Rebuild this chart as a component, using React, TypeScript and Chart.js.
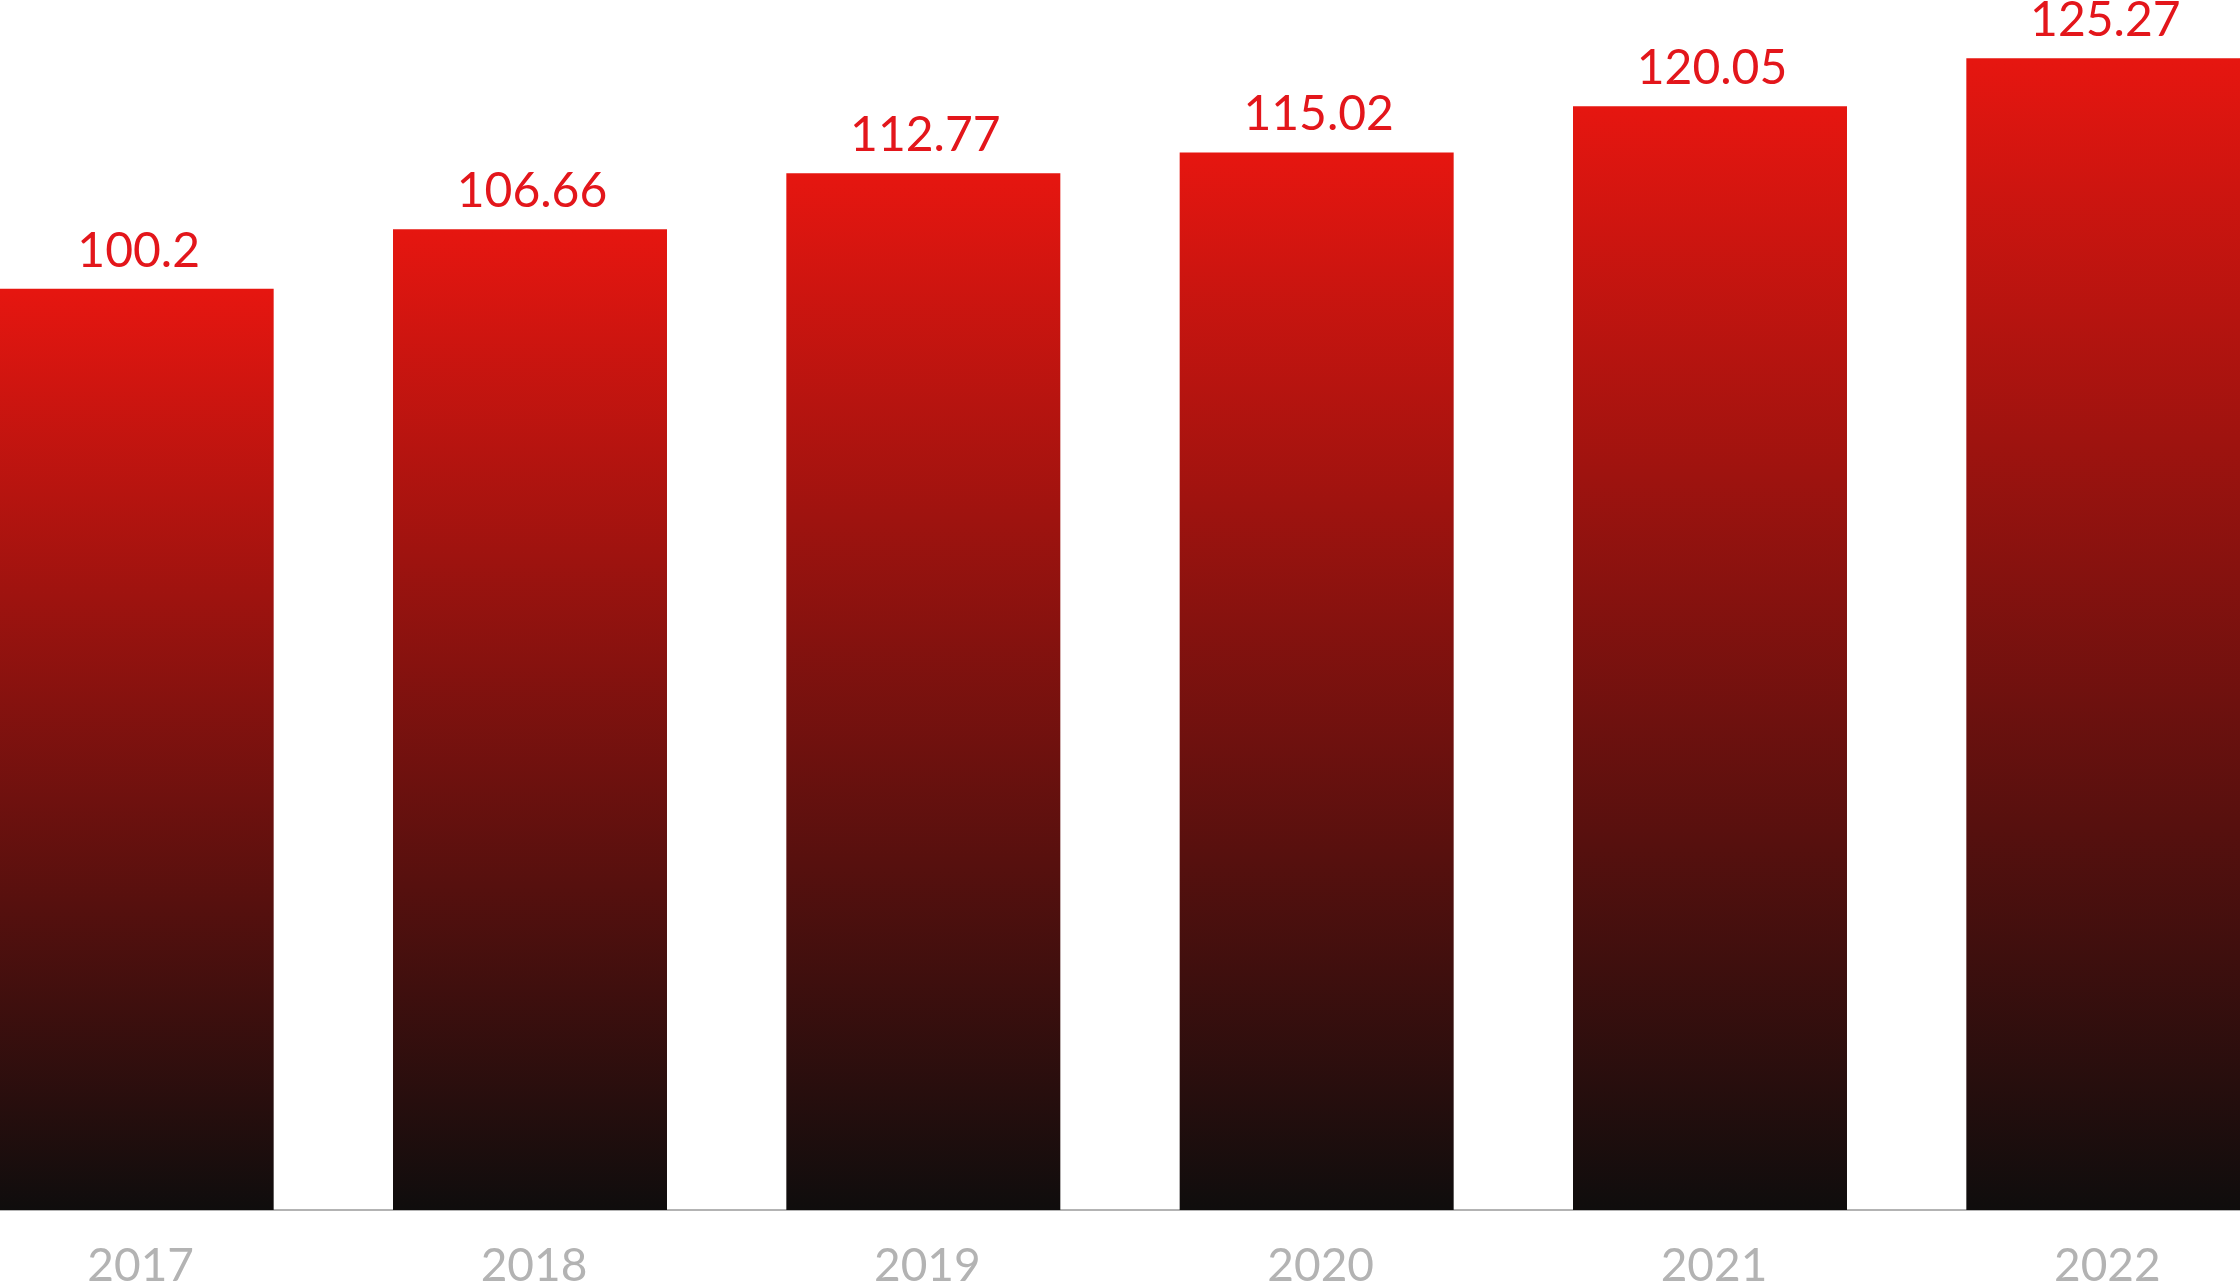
import React, { useEffect, useRef } from "react";
import { Chart, registerables } from "chart.js";

Chart.register(...registerables);

const years = ["2017", "2018", "2019", "2020", "2021", "2022"];
const values = [100.2, 106.66, 112.77, 115.02, 120.05, 125.27];
const valueLabels = ["100.2", "106.66", "112.77", "115.02", "120.05", "125.27"];

const TOP_COLOR = "#e61610";
const BOTTOM_COLOR = "#0f0d0d";
const LABEL_RED = "#e3161b";
const AXIS_GREY = "#b3b3b3";

const valueLabelPlugin = {
  id: "valueLabels",
  afterDatasetsDraw(chart: any) {
    const ctx = chart.ctx;
    const meta = chart.getDatasetMeta(0);
    ctx.save();
    ctx.font = "48px Lato";
    ctx.fillStyle = LABEL_RED;
    ctx.textAlign = "center";
    ctx.textBaseline = "alphabetic";
    meta.data.forEach((bar: any, i: number) => {
      ctx.fillText(valueLabels[i], bar.x + 2, bar.y - 22);
    });
    ctx.restore();
  },
};

export default function App() {
  const canvasRef = useRef<HTMLCanvasElement | null>(null);

  useEffect(() => {
    document.body.style.margin = "0";
    const canvas = canvasRef.current;
    if (!canvas) return;
    const chart = new Chart(canvas, {
      type: "bar",
      data: {
        labels: years,
        datasets: [
          {
            data: values,
            backgroundColor: (c: any) => {
              const ch = c.chart;
              if (!ch.chartArea || c.raw === undefined) return TOP_COLOR;
              const y = ch.scales.y;
              const top = y.getPixelForValue(c.raw);
              const bot = y.getPixelForValue(0);
              const g = ch.ctx.createLinearGradient(0, top, 0, bot);
              g.addColorStop(0, TOP_COLOR);
              g.addColorStop(1, BOTTOM_COLOR);
              return g;
            },
            borderWidth: 0,
            categoryPercentage: 1,
            barPercentage: 0.6966,
          },
        ],
      },
      options: {
        responsive: false,
        animation: false,
        devicePixelRatio: 1,
        layout: { padding: 0 },
        plugins: {
          legend: { display: false },
          tooltip: { enabled: false },
        },
        scales: {
          x: {
            grid: { display: false, drawTicks: false },
            border: { display: true, color: AXIS_GREY, width: 2 },
            ticks: {
              color: AXIS_GREY,
              font: { family: "Lato", size: 46 },
              padding: 29,
              labelOffset: 4,
            },
            afterFit: (scale: any) => {
              scale.height = 76;
            },
          },
          y: {
            display: false,
            min: 0,
            max: 131.6,
          },
        },
      },
      plugins: [valueLabelPlugin],
    });
    return () => chart.destroy();
  }, []);

  return (
    <div
      style={{
        position: "relative",
        width: 2240,
        height: 1286,
        overflow: "hidden",
        background: "#ffffff",
      }}
    >
      <canvas
        ref={canvasRef}
        width={2360}
        height={1286}
        style={{ position: "absolute", left: -60, top: 0, width: 2360, height: 1286 }}
      />
    </div>
  );
}
